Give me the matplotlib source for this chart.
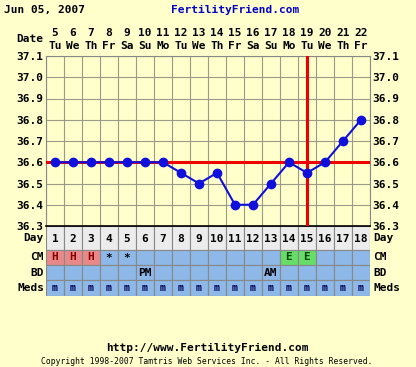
import numpy as np
import matplotlib
matplotlib.use('Agg')
import matplotlib.pyplot as plt
from matplotlib.transforms import blended_transform_factory

# data
cycle_days = list(range(1, 19))
dates = list(range(5, 23))
weekdays = ["Tu", "We", "Th", "Fr", "Sa", "Su", "Mo", "Tu", "We",
            "Th", "Fr", "Sa", "Su", "Mo", "Tu", "We", "Th", "Fr"]
temps = [36.6, 36.6, 36.6, 36.6, 36.6, 36.6, 36.6, 36.55, 36.5,
         36.55, 36.4, 36.4, 36.5, 36.6, 36.55, 36.6, 36.7, 36.8]
cm = ["H", "H", "H", "*", "*", "", "", "", "", "", "", "", "", "E", "E", "", "", ""]
bd = ["", "", "", "", "", "PM", "", "", "", "", "", "", "AM", "", "", "", "", ""]
meds = ["m"] * 18
y_ticks = [36.3, 36.4, 36.5, 36.6, 36.7, 36.8, 36.9, 37.0, 37.1]
coverline = 36.6
ovulation_day = 15

BG = '#FFFFCC'
MONO = 'DejaVu Sans Mono'
W, H = 416, 367

fig = plt.figure(figsize=(W / 100, H / 100), dpi=100, facecolor=BG)

def px(x0, y0, x1, y1):
    return [x0 / W, 1 - y1 / H, (x1 - x0) / W, (y1 - y0) / H]

# temperature chart
ax = fig.add_axes(px(46, 56, 370, 226))
ax.set_facecolor(BG)
ax.set_xlim(0.5, 18.5)
ax.set_ylim(36.3, 37.1)
ax.set_xticks(np.arange(0.5, 18.6, 1))
ax.set_yticks(y_ticks)
ax.set_yticklabels(["%.1f" % t for t in y_ticks])
ax.set_xticklabels([])
ax.tick_params(axis='x', length=0)
ax.tick_params(axis='y', length=0, labelleft=True, labelright=True, pad=2)
for lab in ax.get_yticklabels():
    lab.set_fontfamily(MONO)
    lab.set_fontweight('bold')
    lab.set_fontsize(8)
ax.grid(True, color='#9a9a88', linewidth=0.8)
ax.set_axisbelow(True)
for s in ['top', 'right', 'left']:
    ax.spines[s].set_color('#888888')
    ax.spines[s].set_linewidth(0.8)
ax.spines['bottom'].set_color('black')
ax.spines['bottom'].set_linewidth(1.2)

ax.axhline(coverline, color='#EE0000', linewidth=2.2, zorder=3)
ax.axvline(ovulation_day, color='#EE0000', linewidth=2.2, zorder=3)
ax.plot(cycle_days, temps, color='#1010DD', linewidth=1.5, marker='o',
        markersize=6, zorder=4)

# date header
trans = blended_transform_factory(ax.transData, fig.transFigure)
for d, dt, wd in zip(cycle_days, dates, weekdays):
    ax.text(d, 1 - 33 / H, str(dt), transform=trans, ha='center', va='center',
            fontfamily=MONO, fontweight='bold', fontsize=8)
    ax.text(d, 1 - 46 / H, wd, transform=trans, ha='center', va='center',
            fontfamily=MONO, fontweight='bold', fontsize=8)
fig.text(43 / W, 1 - 39 / H, "Date", ha='right', va='center',
         fontfamily=MONO, fontweight='bold', fontsize=8)
fig.text(4 / W, 1 - 10 / H, "Jun 05, 2007", ha='left', va='center',
         fontfamily=MONO, fontweight='bold', fontsize=8)
fig.text(235 / W, 1 - 10 / H, "FertilityFriend.com", ha='center', va='center',
         fontfamily=MONO, fontweight='bold', fontsize=8, color='#0000CC')

# table rows
tax = fig.add_axes(px(46, 226, 370, 296))
tax.set_xlim(0.5, 18.5)
tax.set_ylim(70, 0)
tax.axis('off')
rows = [("Day", 0, 24), ("CM", 24, 39), ("BD", 39, 54), ("Meds", 54, 70)]

day_colors = ['#ECECEC'] * 18
cm_colors = ['#E88888' if c == 'H' else '#66DD66' if c == 'E' else '#8DB8E8' for c in cm]
plain_colors = ['#8DB8E8'] * 18
row_colors = [day_colors, cm_colors, plain_colors, plain_colors]
row_texts = [[str(d) for d in cycle_days], cm, bd, meds]

for (name, top, bot), colors, texts in zip(rows, row_colors, row_texts):
    tax.bar(cycle_days, bot - top, bottom=top, width=1, color=colors,
            edgecolor='#888888', linewidth=0.8)
    mid = (top + bot) / 2
    for d, t in zip(cycle_days, texts):
        if not t:
            continue
        col = '#000000'
        size = 8
        if t == 'H':
            col = '#880000'
        elif t == 'm':
            col = '#000055'
            size = 7
        elif t == 'E':
            col = '#004400'
        tax.text(d, mid + (1 if name == 'Day' else 0), t, ha='center', va='center',
                 fontfamily=MONO, fontweight='bold', fontsize=size, color=col)
    fig.text(44 / W, 1 - (226 + mid) / H, name, ha='right', va='center',
             fontfamily=MONO, fontweight='bold', fontsize=8)
    fig.text(373 / W, 1 - (226 + mid) / H, name, ha='left', va='center',
             fontfamily=MONO, fontweight='bold', fontsize=8)
tax.axhline(0, color='black', linewidth=1.2)

# footer
fig.text(207 / W, 1 - 348 / H, "http://www.FertilityFriend.com", ha='center',
         va='center', fontfamily=MONO, fontweight='bold', fontsize=8)
fig.text(207 / W, 1 - 362 / H,
         "Copyright 1998-2007 Tamtris Web Services Inc. - All Rights Reserved.",
         ha='center', va='center', fontfamily=MONO, fontsize=5.8)

fig.savefig('out.png', dpi=100, facecolor=BG)
